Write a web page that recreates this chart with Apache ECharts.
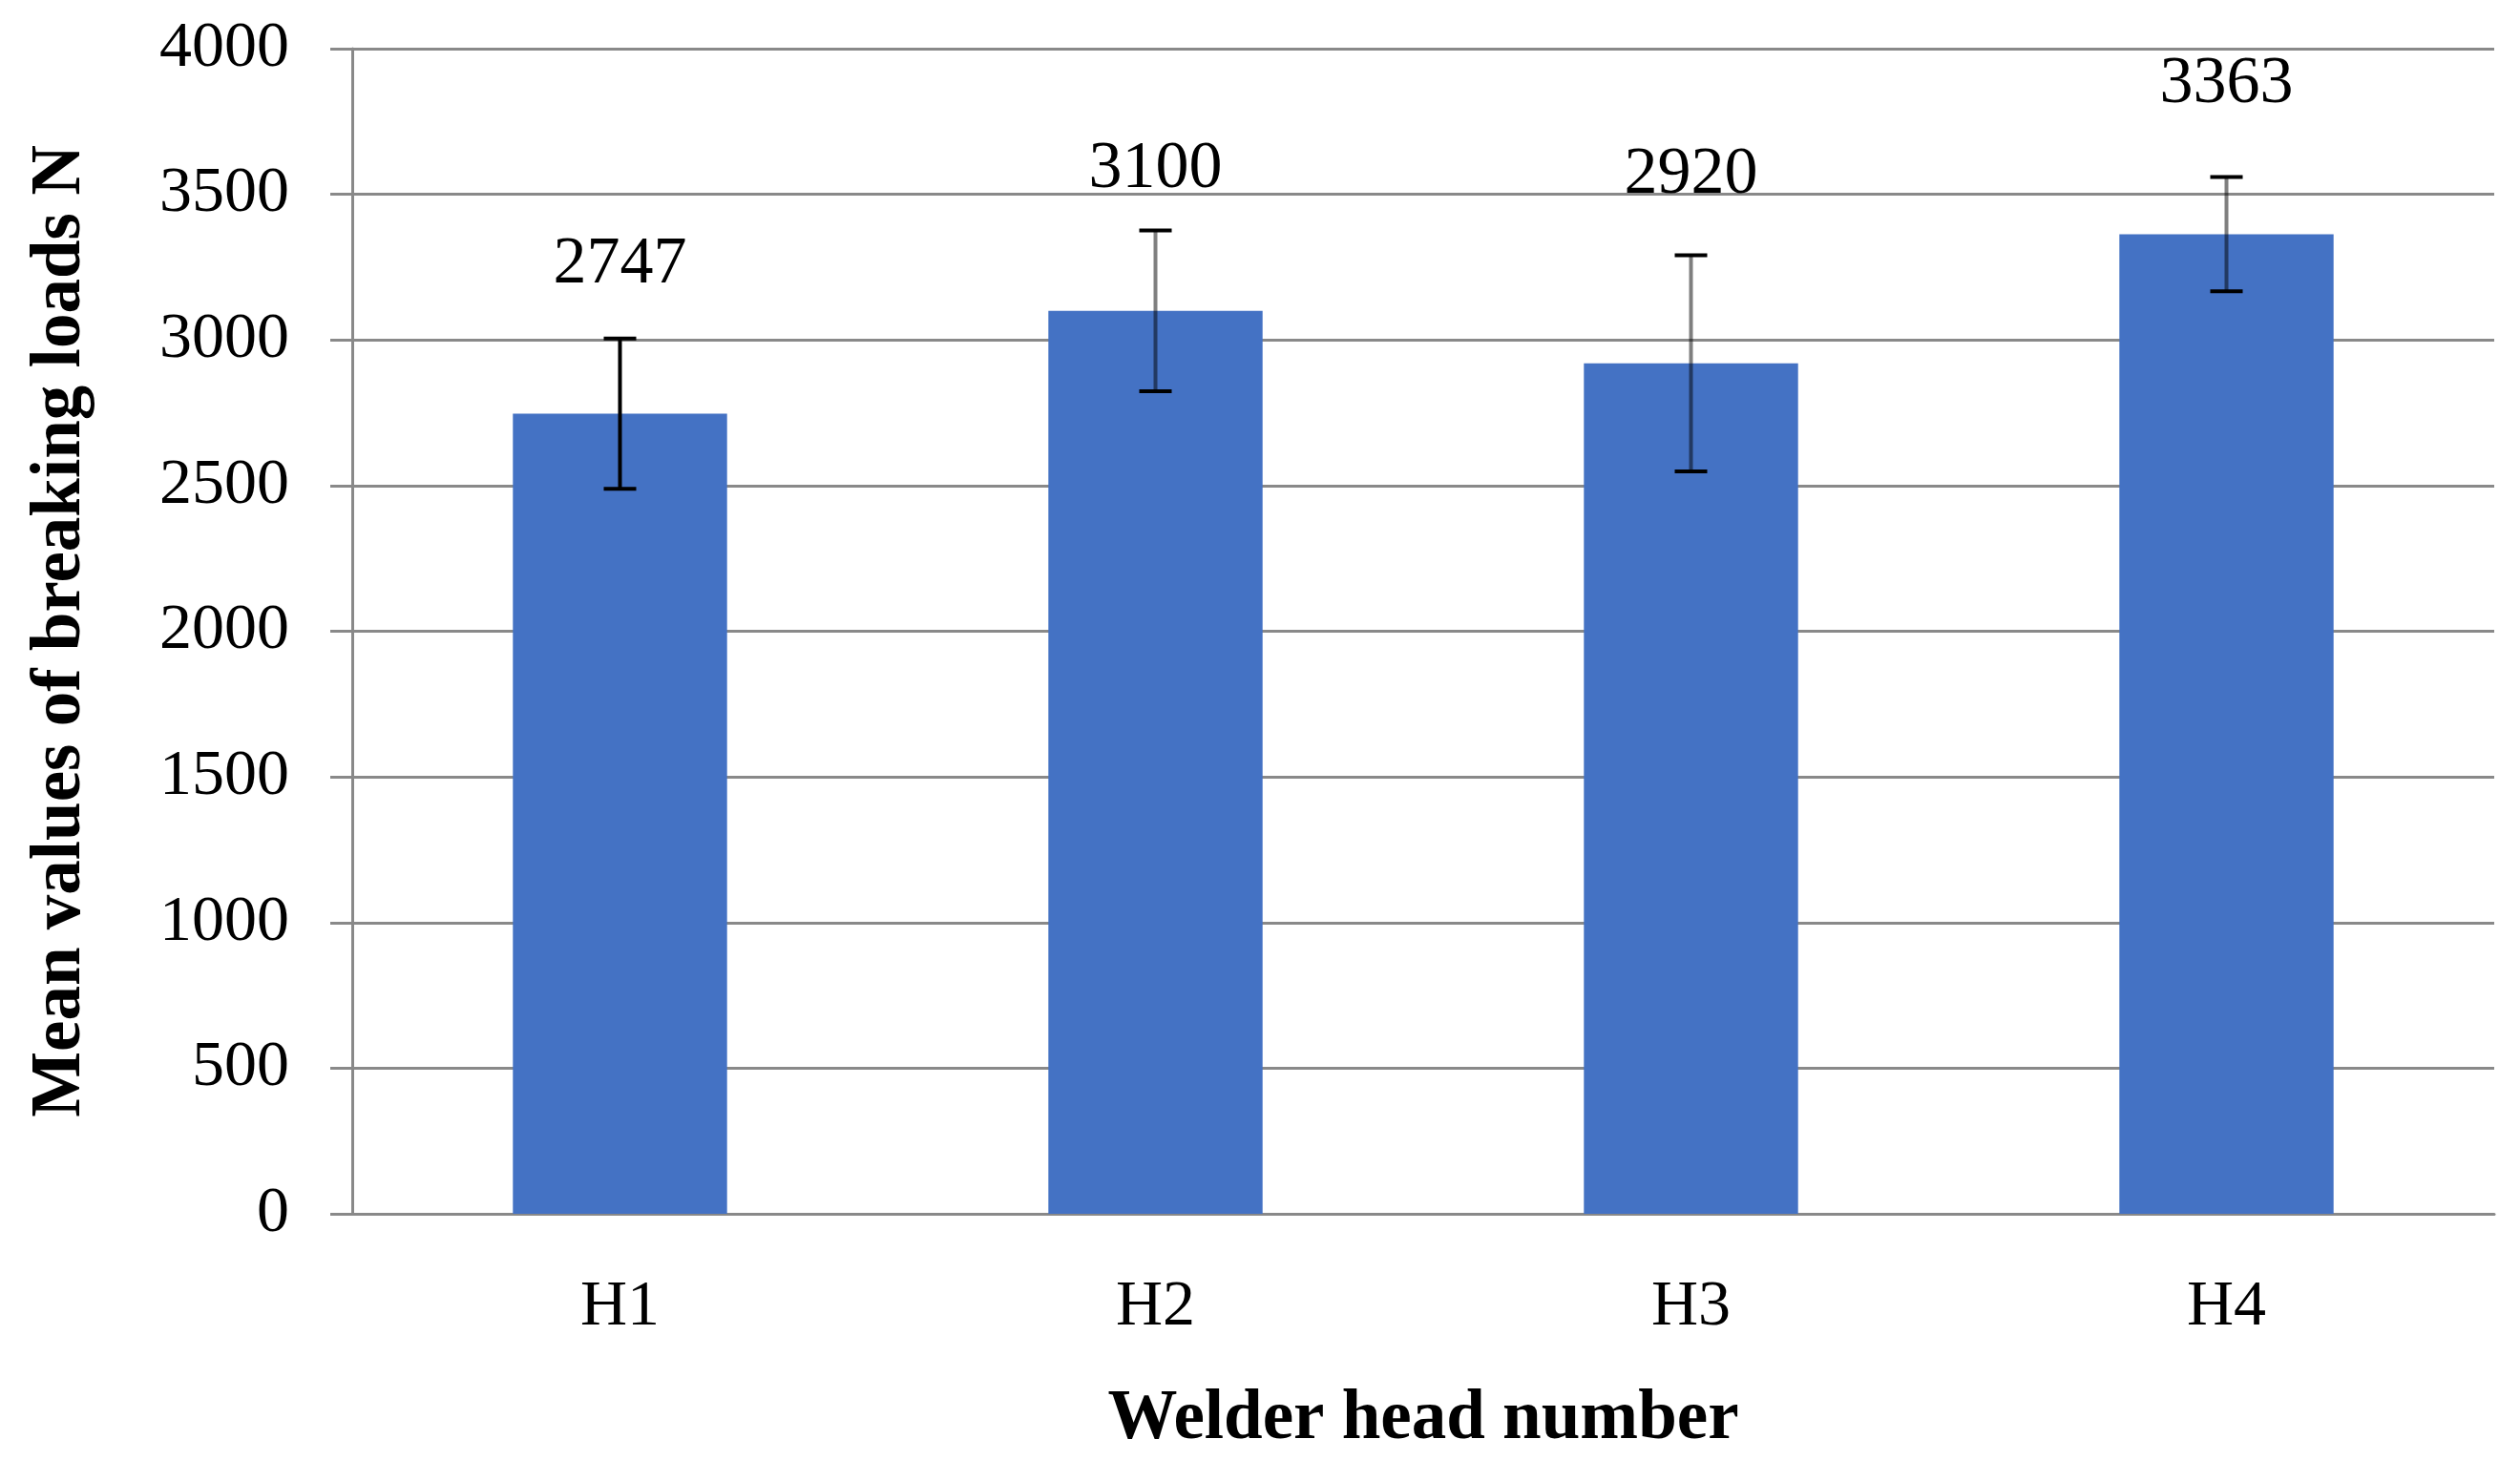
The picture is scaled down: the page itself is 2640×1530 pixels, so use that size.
<!DOCTYPE html>
<html>
<head>
<meta charset="utf-8">
<script src="https://cdn.jsdelivr.net/npm/echarts@6/dist/echarts.min.js"></script>
<style>
html,body{margin:0;padding:0;background:#fff;}
#chart{width:2640px;height:1530px;}
</style>
</head>
<body>
<div id="chart"></div>
<script>
// ---- data ----
const categories = ['H1', 'H2', 'H3', 'H4'];
const meanLoads = [2747, 3100, 2920, 3363];
const errorAmounts = [258, 276, 371, 196];
const yTicks = { min: 0, max: 4000, interval: 500 };
const xTitle = 'Welder head number';
const yTitle = 'Mean values of breaking loads N';

// ---- styles (not data) ----
const labelLift = [77, 64, 84, 97];           // px above the error-bar top
const stemColors = ['#000', 'rgba(0,0,0,0.5)', 'rgba(0,0,0,0.5)', 'rgba(0,0,0,0.5)'];
const FONT = "'Liberation Serif', 'DejaVu Serif', serif";
const GRAY = '#898989';

const errData = categories.map((c, i) => [i, meanLoads[i] - errorAmounts[i], meanLoads[i] + errorAmounts[i], meanLoads[i]]);

const chart = echarts.init(document.getElementById('chart'), null, { renderer: 'canvas' });
chart.setOption({
  animation: false,
  backgroundColor: '#fff',
  grid: { left: 369, right: 27, top: 51, bottom: 255, containLabel: false },
  xAxis: {
    type: 'category',
    data: categories,
    axisLine: { show: true, lineStyle: { color: GRAY, width: 3 } },
    axisTick: { show: false },
    axisLabel: { fontFamily: FONT, fontSize: 68, color: '#000', margin: 64 },
    name: xTitle,
    nameLocation: 'middle',
    nameGap: 180,
    nameTextStyle: { fontFamily: FONT, fontSize: 73, fontWeight: 'bold', color: '#000' }
  },
  yAxis: {
    type: 'value',
    min: yTicks.min, max: yTicks.max, interval: yTicks.interval,
    axisLine: { show: true, lineStyle: { color: GRAY, width: 3 } },
    axisTick: { show: true, inside: false, length: 23, lineStyle: { color: GRAY, width: 3 } },
    splitLine: { show: true, lineStyle: { color: GRAY, width: 3 } },
    axisLabel: { fontFamily: FONT, fontSize: 68, color: '#000', margin: 66, formatter: function (v) { return String(v); } },
    name: yTitle,
    nameLocation: 'middle',
    nameGap: 268,
    nameRotate: 90,
    nameTextStyle: { fontFamily: FONT, fontSize: 73, fontWeight: 'bold', color: '#000' }
  },
  series: [
    {
      type: 'bar',
      data: meanLoads,
      barWidth: '40%',
      itemStyle: { color: '#4472C4' },
      z: 2
    },
    {
      type: 'custom',
      data: errData,
      z: 5,
      renderItem: function (params, api) {
        const i = api.value(0);
        const lo = api.coord([i, api.value(1)]);
        const hi = api.coord([i, api.value(2)]);
        const x = hi[0];
        const half = 17;
        const idx = params.dataIndex;
        return {
          type: 'group',
          children: [
            { type: 'line', shape: { x1: x, y1: hi[1], x2: x, y2: lo[1] }, style: { stroke: stemColors[idx], lineWidth: 4 } },
            { type: 'line', shape: { x1: x - half, y1: hi[1], x2: x + half, y2: hi[1] }, style: { stroke: '#000', lineWidth: 4 } },
            { type: 'line', shape: { x1: x - half, y1: lo[1], x2: x + half, y2: lo[1] }, style: { stroke: '#000', lineWidth: 4 } },
            { type: 'text', x: x, y: hi[1] - labelLift[idx], style: { text: String(api.value(3)), fontFamily: FONT, fontSize: 70, fill: '#000', align: 'center', verticalAlign: 'middle' } }
          ]
        };
      }
    }
  ]
});
</script>
</body>
</html>
